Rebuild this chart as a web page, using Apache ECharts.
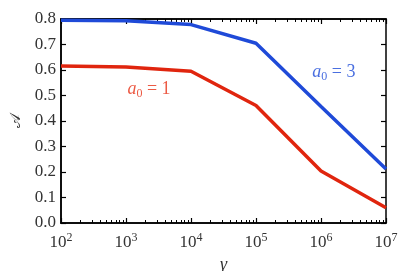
<!DOCTYPE html>
<html><head><meta charset="utf-8">
<script src="https://cdn.jsdelivr.net/npm/echarts@6/dist/echarts.min.js"></script>
<style>html,body{margin:0;padding:0;background:#fff}#c{width:407px;height:271px}</style>
</head><body><div id="c"></div>
<script>
const gammas = [1e2, 1e3, 1e4, 1e5, 1e6, 1e7];
const a0_3 = [0.795, 0.793, 0.778, 0.705, 0.457, 0.212];
const a0_1 = [0.616, 0.612, 0.595, 0.461, 0.204, 0.060];
const yTicks = [0, 0.1, 0.2, 0.3, 0.4, 0.5, 0.6, 0.7, 0.8];
const xMajor = [1e2, 1e3, 1e4, 1e5, 1e6, 1e7];
const xMinor = [];
for (let e = 2; e < 7; e++) for (let k = 2; k <= 9; k++) xMinor.push(k * Math.pow(10, e));
const label1 = {x: 2260, y: 0.525, text: 'a0 = 1'};
const label3 = {x: 1.58e6, y: 0.592, text: 'a0 = 3'};

const FONT = 'Liberation Serif';
const TXT = '#333';
const axisLine = {show: true, onZero: false, lineStyle: {color: '#000', width: 1.5}};
const supRich = {
  b: {fontFamily: FONT, fontSize: 17, color: TXT},
  s: {fontFamily: FONT, fontSize: 12, color: TXT, verticalAlign: 'top', padding: [0, 0, 9, 0]}
};
function xLab(v) { return '{b|10}{s|' + Math.round(Math.log10(v)) + '}'; }
function mathRich(color) {
  return {
    i: {fontFamily: FONT, fontStyle: 'italic', fontSize: 18, color: color},
    sub: {fontFamily: FONT, fontSize: 12, color: color, padding: [9, 0, 0, 0]},
    n: {fontFamily: FONT, fontSize: 18, color: color}
  };
}
function mathText(t) {
  const parts = t.split(' = ');
  return '{i|a}{sub|0}{n| = ' + parts[1] + '}';
}
const gridRect = {left: 61, right: 21, top: 19, bottom: 48, containLabel: false, outerBoundsMode: 'none'};
const baseX = {type: 'log', logBase: 10, min: 1e2, max: 1e7, splitLine: {show: false}, minorTick: {show: false}};
const majTick = {show: true, inside: true, length: 5, lineStyle: {color: '#000', width: 1.2}};
const minTick = {show: true, inside: true, length: 3, lineStyle: {color: '#000', width: 1}, customValues: xMinor};
const chart = echarts.init(document.getElementById('c'), null, {renderer: 'canvas'});
chart.setOption({
  animation: false,
  grid: [Object.assign({}, gridRect), Object.assign({}, gridRect)],
  xAxis: [
    Object.assign({}, baseX, {gridIndex: 0, position: 'bottom', axisLine: axisLine,
      axisTick: Object.assign({customValues: xMajor}, majTick),
      axisLabel: {show: true, margin: 9, formatter: xLab, rich: supRich, customValues: xMajor},
      name: 'γ', nameLocation: 'middle', nameGap: 28,
      nameTextStyle: {fontFamily: FONT, fontStyle: 'italic', fontSize: 18, color: TXT}}),
    Object.assign({}, baseX, {gridIndex: 0, position: 'top', axisLine: axisLine,
      axisTick: Object.assign({customValues: xMajor}, majTick),
      axisLabel: {show: false}}),
    Object.assign({}, baseX, {gridIndex: 1, position: 'bottom', axisLine: axisLine,
      axisTick: minTick, axisLabel: {show: false}}),
    Object.assign({}, baseX, {gridIndex: 1, position: 'top', axisLine: axisLine,
      axisTick: minTick, axisLabel: {show: false}})
  ],
  yAxis: [
    {type: 'value', gridIndex: 0, min: 0, max: 0.8, interval: 0.1, position: 'left', axisLine: axisLine,
      splitLine: {show: false}, axisTick: majTick,
      axisLabel: {margin: 5, fontFamily: FONT, fontSize: 17, color: TXT, formatter: v => v.toFixed(1)},
      name: '𝒜', nameLocation: 'middle', nameGap: 36, nameRotate: 90,
      nameTextStyle: {fontFamily: 'DejaVu Serif', fontSize: 15, color: TXT}},
    {type: 'value', gridIndex: 0, min: 0, max: 0.8, interval: 0.1, position: 'right', axisLine: axisLine,
      splitLine: {show: false}, axisTick: majTick, axisLabel: {show: false}},
    {type: 'value', gridIndex: 1, min: 0, max: 0.8, axisLine: axisLine, axisTick: {show: false},
      axisLabel: {show: false}, splitLine: {show: false}}
  ],
  series: [
    {type: 'line', name: 'a0=3', xAxisIndex: 0, yAxisIndex: 0, showSymbol: false, symbol: 'none',
      lineStyle: {color: '#1f4ad8', width: 3.5}, z: 3,
      data: gammas.map((g, i) => [g, a0_3[i]]),
      markPoint: {symbolSize: 0, silent: true, data: [{coord: [label3.x, label3.y],
        label: {show: true, position: 'inside', formatter: mathText(label3.text), rich: mathRich('#4a6fe0')}}]}},
    {type: 'line', name: 'a0=1', xAxisIndex: 0, yAxisIndex: 0, showSymbol: false, symbol: 'none',
      lineStyle: {color: '#e0250e', width: 3.5}, z: 3,
      data: gammas.map((g, i) => [g, a0_1[i]]),
      markPoint: {symbolSize: 0, silent: true, data: [{coord: [label1.x, label1.y],
        label: {show: true, position: 'inside', formatter: mathText(label1.text), rich: mathRich('#ec5a44')}}]}}
  ]
});
</script></body></html>
